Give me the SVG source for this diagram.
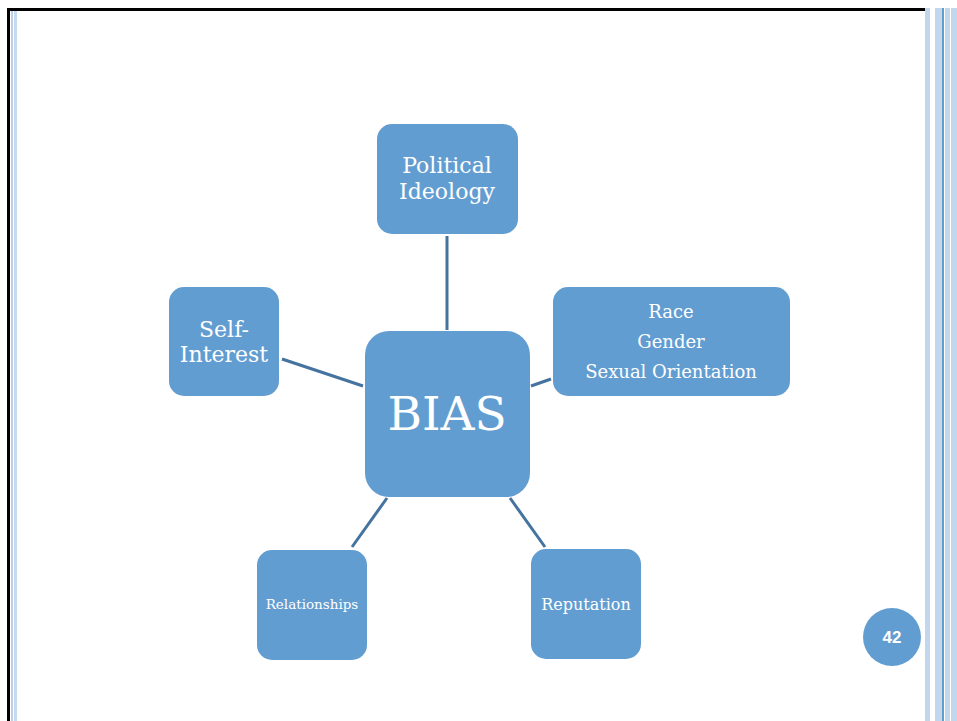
<svg xmlns="http://www.w3.org/2000/svg" width="957" height="721" viewBox="0 0 957 721">
<style>
.box{fill:#629dd1;}
.t{font-family:"DejaVu Serif","Liberation Serif",serif;fill:#ffffff;text-anchor:middle;}
.c{stroke:#45739f;stroke-width:3;fill:none;}
</style>
<rect width="957" height="721" fill="#ffffff"/>
<!-- frame -->
<rect x="7" y="8" width="918" height="3" fill="#000000"/>
<rect x="7" y="8" width="3" height="713" fill="#000000"/>
<rect x="11" y="11" width="2" height="710" fill="#b8d0ea"/>
<rect x="14" y="11" width="3" height="710" fill="#c6d9ee"/>
<rect x="925" y="8" width="5" height="713" fill="#c2d6ec"/>
<rect x="935" y="8" width="7" height="713" fill="#c2d6ec"/>
<rect x="942" y="8" width="2" height="713" fill="#629dd1"/>
<rect x="945" y="8" width="5" height="713" fill="#c2d6ec"/>
<rect x="951" y="8" width="6" height="713" fill="#c2d6ec"/>
<g id="connectors">
<line class="c" x1="447" y1="236" x2="447" y2="330"/>
<line class="c" x1="282" y1="359" x2="363" y2="386"/>
<line class="c" x1="531" y1="386" x2="551" y2="379"/>
<line class="c" x1="387" y1="498" x2="352" y2="547"/>
<line class="c" x1="510" y1="498" x2="545" y2="547"/>
</g>
<g id="political">
<rect class="box" x="377" y="124" width="141" height="110" rx="15"/>
<text class="t" x="447" y="173" font-size="22">Political</text>
<text class="t" x="447" y="199" font-size="22">Ideology</text>
</g>
<g id="self-interest">
<rect class="box" x="169" y="287" width="110" height="109" rx="15"/>
<text class="t" x="224" y="337" font-size="22">Self-</text>
<text class="t" x="224" y="362" font-size="22">Interest</text>
</g>
<g id="race">
<rect class="box" x="553" y="287" width="237" height="109" rx="15"/>
<text class="t" x="671" y="318" font-size="18">Race</text>
<text class="t" x="671" y="348" font-size="18">Gender</text>
<text class="t" x="671" y="378" font-size="18">Sexual Orientation</text>
</g>
<g id="bias">
<rect class="box" x="365" y="331" width="165" height="166" rx="24"/>
<text class="t" x="447" y="430" font-size="47">BIAS</text>
</g>
<g id="relationships">
<rect class="box" x="257" y="550" width="110" height="110" rx="15"/>
<text class="t" x="312" y="609" font-size="13.5">Relationships</text>
</g>
<g id="reputation">
<rect class="box" x="531" y="549" width="110" height="110" rx="15"/>
<text class="t" x="586" y="610" font-size="16">Reputation</text>
</g>
<g id="page">
<circle cx="892" cy="637" r="29" fill="#629dd1"/>
<text x="892" y="643" font-family="Liberation Sans, Arial, sans-serif" font-weight="bold" font-size="17" fill="#ffffff" text-anchor="middle">42</text>
</g>
</svg>
